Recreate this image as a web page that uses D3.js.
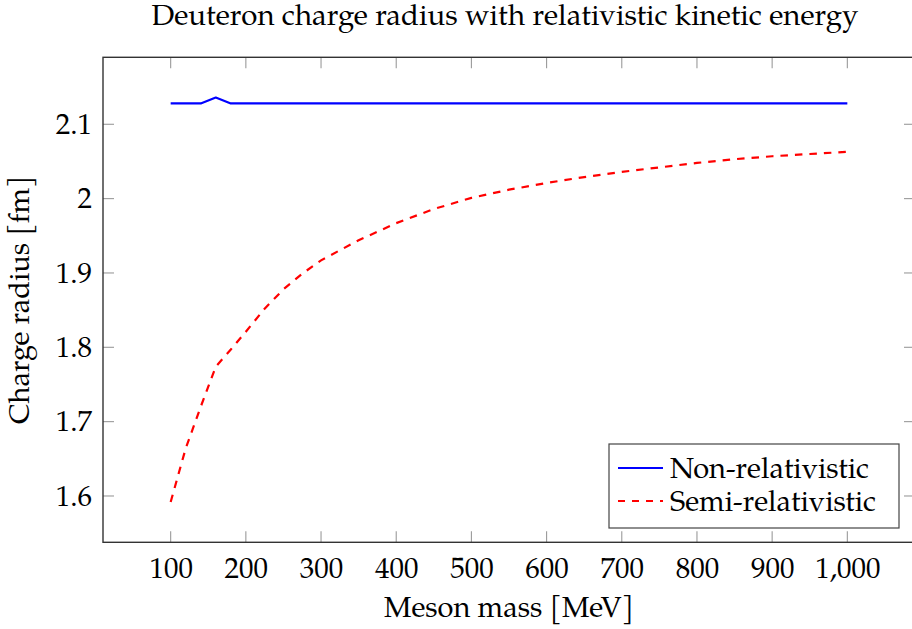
<!DOCTYPE html>
<html>
<head>
<meta charset="utf-8">
<script src="https://cdn.jsdelivr.net/npm/d3@7"></script>
<style>
  html, body { margin: 0; padding: 0; background: #fff; }
  svg { display: block; }
  text { font-family: "TeX Gyre Pagella", "Palatino Linotype", "Book Antiqua", Palatino, "Liberation Serif", serif; fill: #000; }
</style>
</head>
<body>
<svg id="chart" width="912" height="629"></svg>
<script>
// ---- data ----
const titleText = "Deuteron charge radius with relativistic kinetic energy";
const xLabel = "Meson mass [MeV]";
const yLabel = "Charge radius [fm]";
const seriesNames = ["Non-relativistic", "Semi-relativistic"];

const nonRelMass = [100, 120, 140, 160, 180, 200, 300, 400, 500, 600, 700, 800, 900, 1000];
const nonRelRadius = [2.128, 2.128, 2.128, 2.136, 2.128, 2.128, 2.128, 2.128, 2.128, 2.128, 2.128, 2.128, 2.128, 2.128];

const semiRelMass = [100, 120, 140, 160, 180, 200, 225, 250, 275, 300, 350, 400, 450, 500, 550, 600, 650, 700, 750, 800, 850, 900, 950, 1000];
const semiRelRadius = [1.592, 1.664, 1.720, 1.774, 1.797, 1.821, 1.852, 1.878, 1.899, 1.917, 1.944, 1.967, 1.986, 2.001, 2.012, 2.021, 2.029, 2.036, 2.042, 2.048, 2.053, 2.057, 2.060, 2.063];

const xTicks = [100, 200, 300, 400, 500, 600, 700, 800, 900, 1000];
const yTicks = [1.6, 1.7, 1.8, 1.9, 2.0, 2.1];

// ---- layout ----
const svg = d3.select("#chart");
const L = 103, R = 915, T = 57.3, B = 542.3;
const x = d3.scaleLinear().domain([10, 1090]).range([L, R]);
const y = d3.scaleLinear().domain([1.5377, 2.1901]).range([B, T]);
const fs = 29;

const xFmt = d3.format(",");
const yFmt = v => (Math.round(v * 10) / 10).toString();

// ticks inward on all four sides
const tickLen = 11;
const tickG = svg.append("g").attr("stroke", "#9a9a9a").attr("stroke-width", 1.1);
xTicks.forEach(v => {
  tickG.append("line").attr("x1", x(v)).attr("x2", x(v)).attr("y1", B).attr("y2", B - tickLen);
  tickG.append("line").attr("x1", x(v)).attr("x2", x(v)).attr("y1", T).attr("y2", T + tickLen);
});
yTicks.forEach(v => {
  tickG.append("line").attr("x1", L).attr("x2", L + tickLen).attr("y1", y(v)).attr("y2", y(v));
  tickG.append("line").attr("x1", R).attr("x2", R - tickLen).attr("y1", y(v)).attr("y2", y(v));
});

// tick labels via d3 axes (no lines)
const xAxis = svg.append("g").attr("transform", `translate(0,${B})`)
  .call(d3.axisBottom(x).tickValues(xTicks).tickFormat(xFmt).tickSize(0).tickPadding(15));
xAxis.select(".domain").remove();
xAxis.selectAll("text").style("font-size", fs + "px").attr("font-family", null).attr("dy", "0.71em");

const yAxis = svg.append("g").attr("transform", `translate(${L},0)`)
  .call(d3.axisLeft(y).tickValues(yTicks).tickFormat(yFmt).tickSize(0).tickPadding(11));
yAxis.select(".domain").remove();
yAxis.selectAll("text").style("font-size", fs + "px").attr("font-family", null);

// lines
const line = d3.line().x(d => x(d[0])).y(d => y(d[1]));
svg.append("path")
  .datum(nonRelMass.map((m, i) => [m, nonRelRadius[i]]))
  .attr("d", line).attr("fill", "none").attr("stroke", "#0000ff").attr("stroke-width", 2.2)
  .attr("stroke-linejoin", "round");
svg.append("path")
  .datum(semiRelMass.map((m, i) => [m, semiRelRadius[i]]))
  .attr("d", line).attr("fill", "none").attr("stroke", "#ff0000").attr("stroke-width", 2.2)
  .attr("stroke-dasharray", "7.5,7");

// frame
svg.append("rect").attr("x", L).attr("y", T).attr("width", R - L).attr("height", B - T)
  .attr("fill", "none").attr("stroke", "#333").attr("stroke-width", 1.4);

// title and axis labels
svg.append("text").attr("x", 505).attr("y", 25).attr("text-anchor", "middle")
  .style("font-size", "29.4px").text(titleText);
svg.append("text").attr("x", 509).attr("y", 617).attr("text-anchor", "middle")
  .style("font-size", fs + "px").text(xLabel);
svg.append("text").attr("transform", `translate(29,${(T + B) / 2}) rotate(-90)`).attr("text-anchor", "middle")
  .style("font-size", fs + "px").text(yLabel);

// legend
const lg = svg.append("g");
lg.append("rect").attr("x", 609).attr("y", 444).attr("width", 290).attr("height", 84)
  .attr("fill", "#fff").attr("stroke", "#444").attr("stroke-width", 1.2);
const legendColors = ["#0000ff", "#ff0000"];
const legendDash = [null, "7,7"];
seriesNames.forEach((name, i) => {
  const yy = 468 + i * 33;
  lg.append("line").attr("x1", 618).attr("x2", 663).attr("y1", yy).attr("y2", yy)
    .attr("stroke", legendColors[i]).attr("stroke-width", 2.2).attr("stroke-dasharray", legendDash[i]);
  lg.append("text").attr("x", 670).attr("y", yy + 10).style("font-size", fs + "px").text(name);
});
</script>
</body>
</html>
